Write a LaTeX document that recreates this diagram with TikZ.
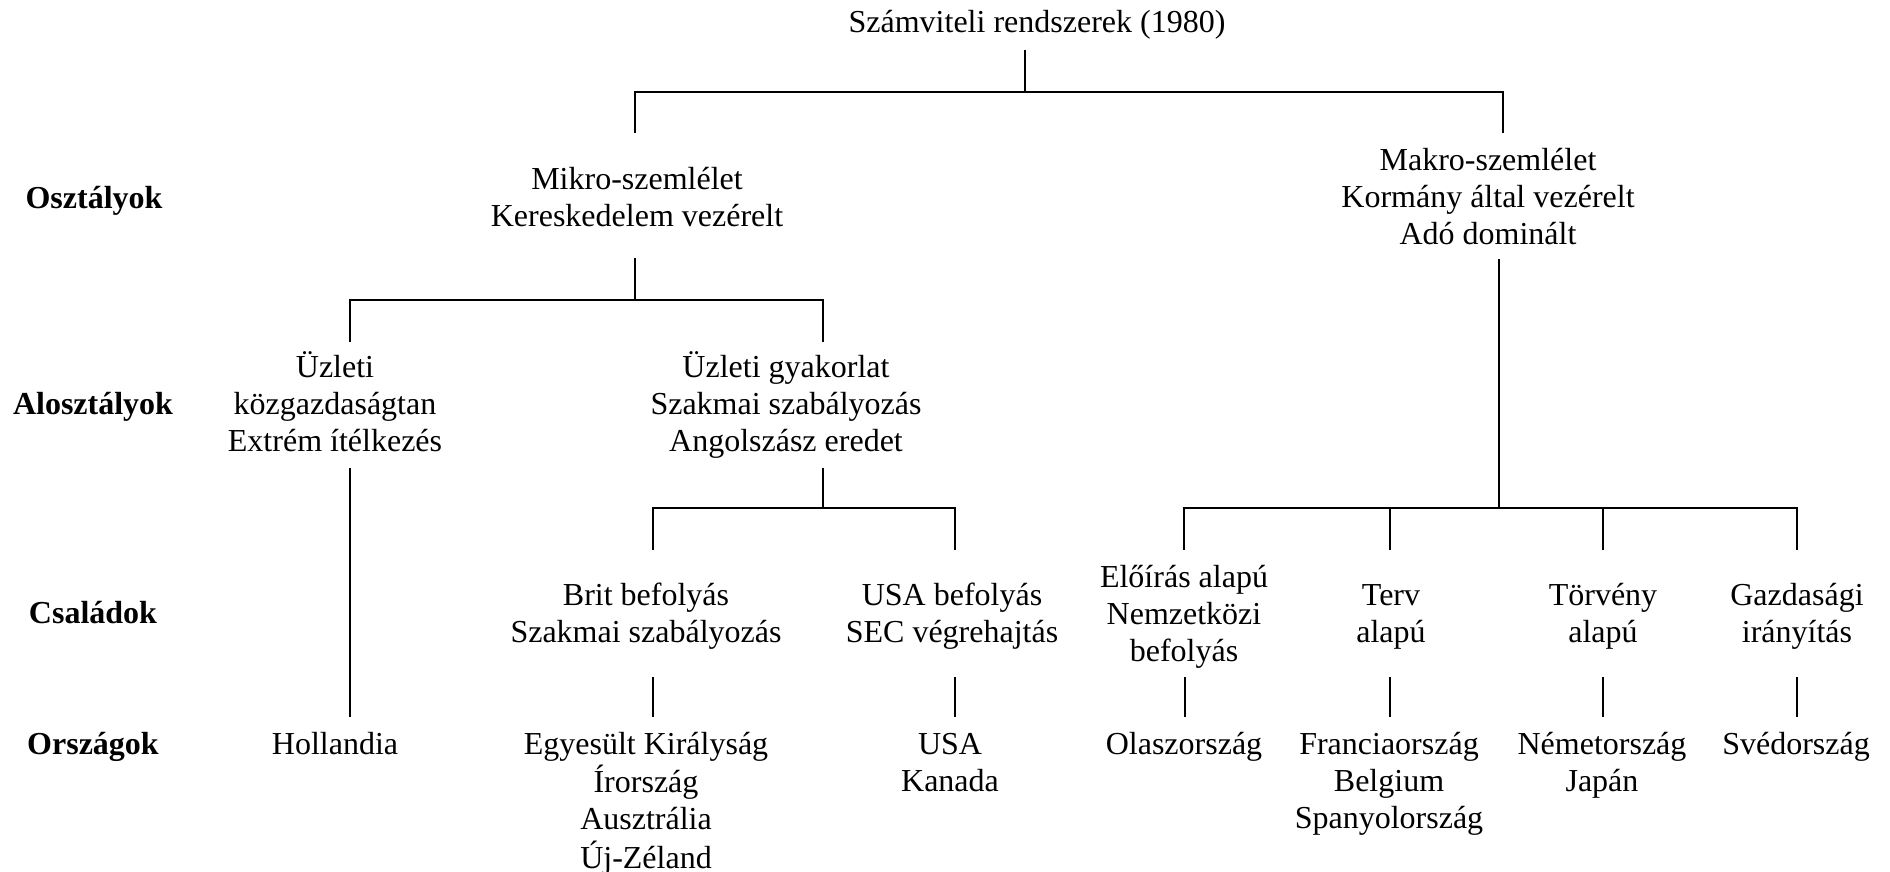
\documentclass[tikz,border=0pt]{standalone}
\usepackage{fontspec}
\setmainfont{Liberation Serif}
% centred multi-line cell whose baseline is the first line
\newcommand{\cellstack}[1]{\begin{tabular}[t]{@{}c@{}}#1\end{tabular}}
\begin{document}
\begin{tikzpicture}[x=0.5pt,y=-0.5pt,
  every node/.style={inner sep=0pt, outer sep=0pt, anchor=base,
    font=\fontsize{16}{18.5}\selectfont},
  levellabel/.style={font=\fontsize{16}{18.5}\selectfont\bfseries},
  link/.style={line width=1.2pt}]
\useasboundingbox (0,0) rectangle (1890,872);

% level labels
\node[levellabel] (lOszt)  at (94,208) {Osztályok};
\node[levellabel] (lAlo)   at (93,414) {Alosztályok};
\node[levellabel] (lCsal)  at (93,623) {Családok};
\node[levellabel] (lOrsz)  at (93,754) {Országok};

% tree entries
\node (root)  at (1037,33)  {Számviteli rendszerek (1980)};
\node (mikro) at (637,189)  {\cellstack{Mikro-szemlélet\\Kereskedelem vezérelt}};
\node (makro) at (1488,170) {\cellstack{Makro-szemlélet\\Kormány által vezérelt\\Adó dominált}};
\node (uzkoz) at (335,377)  {\cellstack{Üzleti\\közgazdaságtan\\Extrém ítélkezés}};
\node (uzgyak) at (786,377) {\cellstack{Üzleti gyakorlat\\Szakmai szabályozás\\Angolszász eredet}};
\node (brit)  at (646,605)  {\cellstack{Brit befolyás\\Szakmai szabályozás}};
\node (usab)  at (952,605)  {\cellstack{USA befolyás\\SEC végrehajtás}};
\node (eloir) at (1184,587) {\cellstack{Előírás alapú\\Nemzetközi\\befolyás}};
\node (terv)  at (1391,605) {\cellstack{Terv\\alapú}};
\node (torv)  at (1603,605) {\cellstack{Törvény\\alapú}};
\node (gazd)  at (1797,605) {\cellstack{Gazdasági\\irányítás}};

\node (holl)  at (335,754)  {Hollandia};
\node (uk)    at (646,754)  {\cellstack{Egyesült Királyság\\Írország\\Ausztrália\\Új-Zéland}};
\node (usa)   at (950,754)  {\cellstack{USA\\Kanada}};
\node (olasz) at (1184,754) {Olaszország};
\node (fran)  at (1389,754) {\cellstack{Franciaország\\Belgium\\Spanyolország}};
\node (nemet) at (1602,754) {\cellstack{Németország\\Japán}};
\node (sved)  at (1796,754) {Svédország};

% junction points
\coordinate (rootS) at (1025,50);
\coordinate (rootJ) at (1025,92);
\coordinate (mikroN) at (635,133);
\coordinate (makroN) at (1503,133);
\coordinate (mikroS) at (635,258);
\coordinate (mikroJ) at (635,300);
\coordinate (uzkozN) at (350,342);
\coordinate (uzgyakN) at (823,342);
\coordinate (uzkozS) at (350,468);
\coordinate (hollN) at (350,717);
\coordinate (uzgyakS) at (823,468);
\coordinate (uzgyakJ) at (823,508);
\coordinate (britN) at (653,550);
\coordinate (usabN) at (955,550);
\coordinate (makroS) at (1499,259);
\coordinate (makroJ) at (1499,508);
\coordinate (eloirN) at (1184,550);
\coordinate (tervN) at (1390,550);
\coordinate (torvN) at (1603,550);
\coordinate (gazdN) at (1797,550);

% connectors
\draw[link] (rootS) -- (rootJ);
\draw[link] (mikroN) -- (mikroN |- rootJ) -- (makroN |- rootJ) -- (makroN);

\draw[link] (mikroS) -- (mikroJ);
\draw[link] (uzkozN) -- (uzkozN |- mikroJ) -- (uzgyakN |- mikroJ) -- (uzgyakN);

\draw[link] (uzkozS) -- (hollN);

\draw[link] (uzgyakS) -- (uzgyakJ);
\draw[link] (britN) -- (britN |- uzgyakJ) -- (usabN |- uzgyakJ) -- (usabN);

\draw[link] (makroS) -- (makroJ);
\draw[link] (eloirN) -- (eloirN |- makroJ) -- (gazdN |- makroJ) -- (gazdN);
\draw[link] (tervN) -- (tervN |- makroJ);
\draw[link] (torvN) -- (torvN |- makroJ);

% short links from families to countries
\foreach \xx/\nm in {653/brit,955/usab,1185/eloir,1390/terv,1603/torv,1797/gazd}{
  \coordinate (\nm Top) at (\xx,677);
  \coordinate (\nm Bot) at (\xx,717);
  \draw[link] (\nm Top) -- (\nm Bot);
}
\end{tikzpicture}
\end{document}
